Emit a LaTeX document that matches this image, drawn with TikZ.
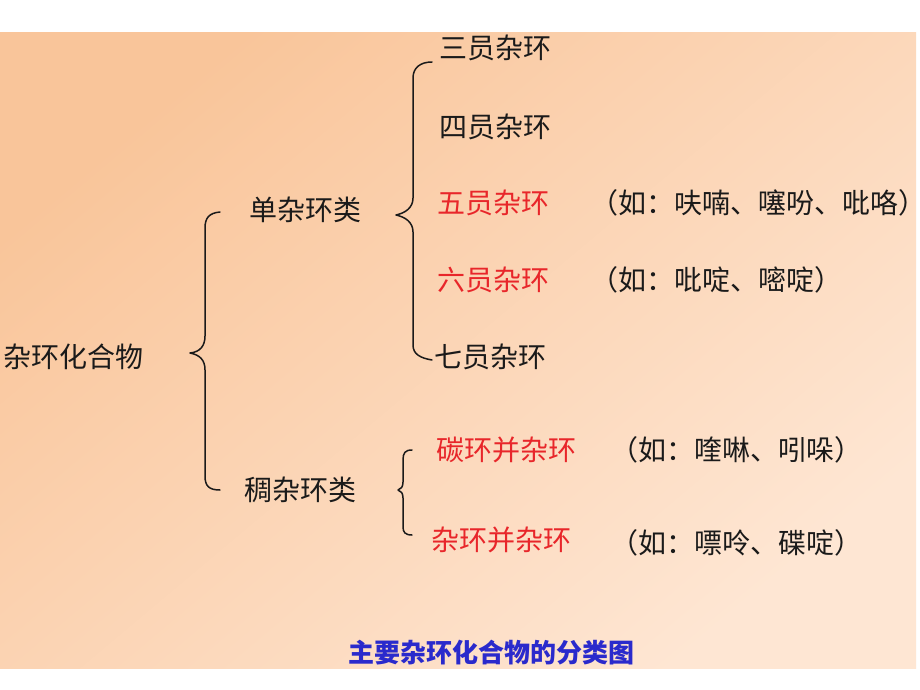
\documentclass[tikz,border=0pt]{standalone}
\usepackage{fontspec}
\newfontfamily\cjk{Noto Sans CJK SC}
\definecolor{txt}{HTML}{1A1A1A}
\definecolor{redtxt}{HTML}{E8262A}
\definecolor{captxt}{HTML}{2A2ACC}
\definecolor{bgTL}{HTML}{F9C59A}
\definecolor{bgBR}{HTML}{FEE6D3}
\tikzset{
  lbl/.style={anchor=west, inner sep=0pt, text=txt, font=\cjk\fontsize{28}{30}\selectfont},
  redlbl/.style={lbl, text=redtxt},
  caption/.style={inner sep=0pt, text=captxt, font=\cjk\bfseries\fontsize{26}{30}\selectfont},
  bracepath/.style={draw=txt, line width=1.5pt, line cap=round, line join=round}
}
\begin{document}
\begin{tikzpicture}[x=1pt,y=-1pt]
\useasboundingbox (0,0) rectangle (920,690);
\fill[white] (0,0) rectangle (920,690);
\shade[top color=bgTL, bottom color=bgBR, shading angle=40] (0,33) rectangle (916,668);

% nodes
\node[lbl] (root) at (3,357) {杂环化合物};
\node[lbl] (dan) at (249,210) {单杂环类};
\node[lbl] (chou) at (244,490) {稠杂环类};
\node[lbl] (r3) at (439,48) {三员杂环};
\node[lbl] (r4) at (439,127) {四员杂环};
\node[redlbl] (r5) at (437,203) {五员杂环};
\node[redlbl] (r6) at (437,280) {六员杂环};
\node[lbl] (r7) at (434,357) {七员杂环};
\node[lbl] (e5) at (590,203) {（如：呋喃、噻吩、吡咯）};
\node[lbl] (e6) at (590,280) {（如：吡啶、嘧啶）};
\node[redlbl] (f1) at (436,450) {碳环并杂环};
\node[redlbl] (f2) at (431,540) {杂环并杂环};
\node[lbl] (e7) at (610,450) {（如：喹啉、吲哚）};
\node[lbl] (e8) at (610,543) {（如：嘌呤、碟啶）};
\node[caption] (cap) at (491,653) {主要杂环化合物的分类图};

% brace 1
\draw[bracepath] (220,212) .. controls (209,213) and (205,218) .. (205,228) -- (205,336)
  .. controls (205,346) and (200,352) .. (190,353)
  .. controls (200,355) and (205,360) .. (205,370) -- (205,476)
  .. controls (205,486) and (209,490) .. (220,490);
% brace 2
\draw[bracepath] (432,62) .. controls (420,62) and (413,68) .. (413,78) -- (413,198)
  .. controls (413,208) and (405,213) .. (396,215)
  .. controls (405,217) and (413,222) .. (413,232) -- (413,345)
  .. controls (413,354) and (420,358) .. (432,360);
% brace 3
\draw[bracepath] (412,450) .. controls (405,450) and (403,453) .. (403,460) -- (403,482)
  .. controls (403,487) and (401,489) .. (398,490)
  .. controls (401,491) and (403,493) .. (403,498) -- (403,527)
  .. controls (403,532) and (405,535) .. (412,535);
\end{tikzpicture}
\end{document}
